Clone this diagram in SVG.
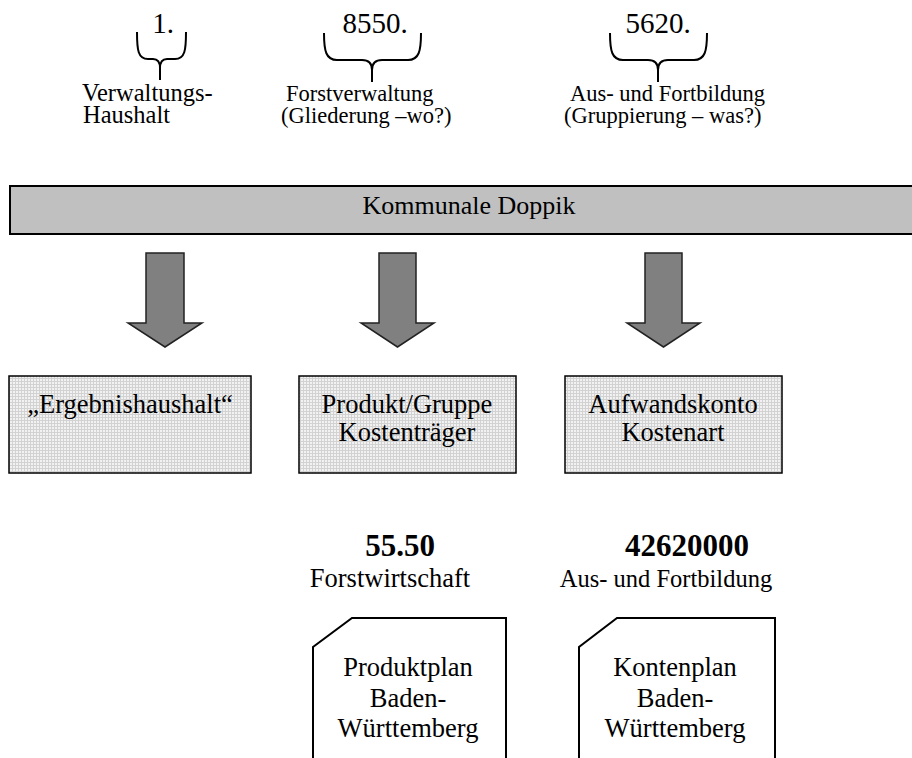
<svg xmlns="http://www.w3.org/2000/svg" width="912" height="758" viewBox="0 0 912 758">
<style>
  text { font-family: "Liberation Serif", "Times New Roman", serif; fill: #000; }
  .num { font-size: 29px; text-anchor: middle; }
  .lblL { font-size: 24.5px; }
  .lbl { font-size: 22.5px; }
  .mid { text-anchor: middle; }
  .t26 { font-size: 26px; }
  .t265 { font-size: 26.5px; }
  .bold { font-size: 31px; font-weight: bold; text-anchor: middle; }
  .brace { fill: none; stroke: #000; stroke-width: 2; }
  .blk { fill: #808080; stroke: #222; stroke-width: 1.5; }
  .box { fill: url(#grid); stroke: #000; stroke-width: 1.5; }
  .doc { fill: #fff; stroke: #000; stroke-width: 2; }
</style>
<defs>
  <pattern id="grid" width="3" height="3" patternUnits="userSpaceOnUse">
    <rect width="3" height="3" fill="#f2f2f2"/>
    <path d="M0,0.5 H3 M0.5,0 V3" stroke="#d2d2d2" stroke-width="1"/>
  </pattern>
</defs>

<g id="brace1">
  <text class="num" x="163" y="33">1.</text>
  <path class="brace" d="M137,32 C137,50 138,59 148,59 L153,59 C158,59 160,63 160,68 L160,80 M186,32 C186,50 185,59 175,59 L167,59 C162,59 160,63 160,68"/>
  <text class="lblL" x="82" y="101">Verwaltungs-</text>
  <text class="lblL" x="83" y="123">Haushalt</text>
</g>
<g id="brace2">
  <text class="num" x="375" y="33">8550.</text>
  <path class="brace" d="M324,33 C324,51 326,60 337,60 L362,60 C369,60 372,64 372,70 L372,82 M421,33 C421,51 419,60 408,60 L382,60 C375,60 372,64 372,70"/>
  <text class="lbl" x="286" y="101">Forstverwaltung</text>
  <text class="lbl" x="281" y="123">(Gliederung –wo?)</text>
</g>
<g id="brace3">
  <text class="num" x="658" y="33">5620.</text>
  <path class="brace" d="M610,33 C610,51 612,60 623,60 L648,60 C655,60 658,64 658,70 L658,82 M707,33 C707,51 705,60 694,60 L668,60 C661,60 658,64 658,70"/>
  <text class="lbl" x="570" y="101">Aus- und Fortbildung</text>
  <text class="lbl" x="564" y="123">(Gruppierung – was?)</text>
</g>

<g id="bar">
  <rect x="10" y="186" width="910" height="48" fill="#c0c0c0" stroke="#000" stroke-width="2"/>
  <text class="t26 mid" x="469" y="214">Kommunale Doppik</text>
</g>

<g id="connectors">
  <path class="blk" d="M146,253 H184 V323 H202 L165,347 L128,323 H146 Z"/>
  <path class="blk" d="M379,253 H416 V323 H434 L397.5,347 L361,323 H379 Z"/>
  <path class="blk" d="M645,253 H682 V323 H700 L663.5,347 L627,323 H645 Z"/>
</g>

<g id="box1">
  <rect class="box" x="9" y="376" width="242" height="97"/>
  <text class="t265 mid" x="130" y="413">„Ergebnishaushalt“</text>
</g>
<g id="box2">
  <rect class="box" x="299" y="376" width="217" height="97"/>
  <text class="t265 mid" x="407" y="413">Produkt/Gruppe</text>
  <text class="t265 mid" x="407" y="441">Kostenträger</text>
</g>
<g id="box3">
  <rect class="box" x="565" y="376" width="217" height="97"/>
  <text class="t265 mid" x="673" y="413">Aufwandskonto</text>
  <text class="t265 mid" x="673" y="441">Kostenart</text>
</g>

<g id="code1">
  <text class="bold" x="400" y="556">55.50</text>
  <text class="t265 mid" x="390" y="587">Forstwirtschaft</text>
</g>
<g id="code2">
  <text class="bold" x="687" y="556">42620000</text>
  <text class="mid" style="font-size:24.5px" x="666" y="587">Aus- und Fortbildung</text>
</g>

<g id="doc1">
  <path class="doc" d="M313,770 V647 L352,618 H506 V770"/>
  <text class="t265 mid" x="408" y="676">Produktplan</text>
  <text class="t265 mid" x="408" y="707">Baden-</text>
  <text class="t265 mid" x="408" y="737">Württemberg</text>
</g>
<g id="doc2">
  <path class="doc" d="M579,770 V647 L617,618 H775 V770"/>
  <text class="t265 mid" x="675" y="676">Kontenplan</text>
  <text class="t265 mid" x="675" y="707">Baden-</text>
  <text class="t265 mid" x="675" y="737">Württemberg</text>
</g>
</svg>
